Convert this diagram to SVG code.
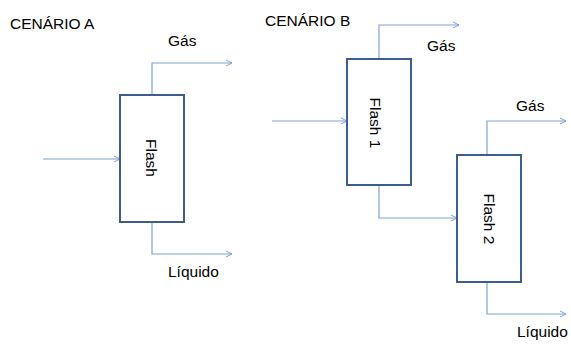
<svg xmlns="http://www.w3.org/2000/svg" width="571" height="347" viewBox="0 0 571 347">
<defs>
<marker id="arr" viewBox="0 0 8 8" refX="7" refY="4" markerWidth="8" markerHeight="8" markerUnits="userSpaceOnUse" orient="auto">
<path d="M1,1 L7,4 L1,7" fill="none" stroke="#7fa3d4" stroke-width="1"/>
</marker>
</defs>
<style>
.box{fill:#ffffff;stroke:#3b5e8c;stroke-width:2}
.ln{fill:none;stroke:#7fa3d4;stroke-width:1.2;marker-end:url(#arr)}
text{font-family:"Liberation Sans",Arial,sans-serif;font-size:15.5px;fill:#000000}
</style>
<rect width="571" height="347" fill="#ffffff"/>
<text x="10" y="29">CENÁRIO A</text>
<text x="265" y="26">CENÁRIO B</text>
<g id="connectors">
<path class="ln" d="M43,159 H120"/>
<path class="ln" d="M152,95 V63 H232"/>
<path class="ln" d="M152,222 V254 H232"/>
<path class="ln" d="M272,121 H347"/>
<path class="ln" d="M379,59 V25 H459"/>
<path class="ln" d="M379,185 V218 H457"/>
<path class="ln" d="M487,155 V121 H566"/>
<path class="ln" d="M487,282 V314 H566"/>
</g>
<g id="label-gas-a"><text x="168" y="46">Gás</text></g>
<g id="label-liq-a"><text x="168" y="277">Líquido</text></g>
<g id="label-gas-b1"><text x="427" y="51">Gás</text></g>
<g id="label-gas-b2"><text x="516" y="111">Gás</text></g>
<g id="label-liq-b"><text x="517" y="337">Líquido</text></g>
<g id="flash-a">
<rect class="box" x="120" y="95" width="64" height="127"/>
<text transform="translate(146,158) rotate(90)" text-anchor="middle">Flash</text>
</g>
<g id="flash-1">
<rect class="box" x="347" y="59" width="64" height="126"/>
<text transform="translate(370,123) rotate(90)" text-anchor="middle">Flash 1</text>
</g>
<g id="flash-2">
<rect class="box" x="457" y="155" width="64" height="127"/>
<text transform="translate(484,219) rotate(90)" text-anchor="middle">Flash 2</text>
</g>
</svg>
